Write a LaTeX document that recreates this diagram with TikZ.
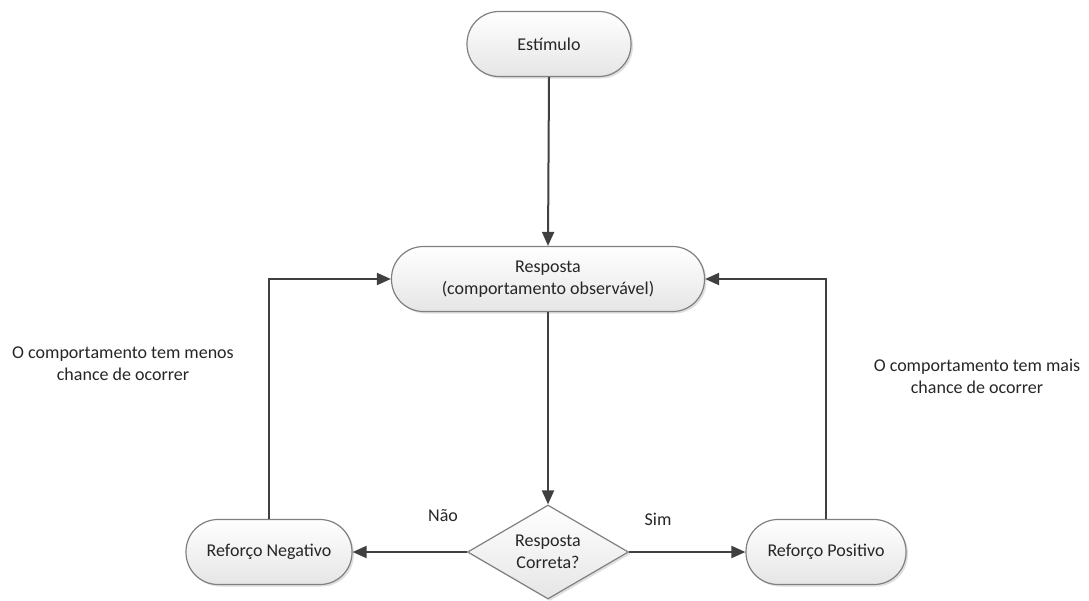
\documentclass[tikz,border=0pt]{standalone}
\usepackage{fontspec}
\setmainfont{Carlito}
\usepackage{tikz}
\usetikzlibrary{arrows.meta,shapes.geometric,shadows}
\definecolor{boxline}{HTML}{808080}
\definecolor{flowline}{HTML}{404040}
\definecolor{txtcol}{HTML}{262626}
\tikzset{
  farrow/.style={-{Triangle[length=14pt,width=12pt]}, line width=2pt, draw=flowline},
  fline/.style={line width=2pt, draw=flowline},
  termbox/.style={draw=boxline, line width=1.2pt, rounded corners=32pt,
    top color=white, bottom color=black!10, align=center, inner sep=0pt,
    minimum height=65pt, text=txtcol,
    drop shadow={shadow xshift=2pt, shadow yshift=-2pt, opacity=0.25}},
  decbox/.style={draw=boxline, line width=1.2pt, diamond, aspect=1.7,
    top color=white, bottom color=black!10, align=center, inner sep=0pt,
    minimum width=161pt, minimum height=94pt, text=txtcol,
    drop shadow={shadow xshift=2pt, shadow yshift=-2pt, opacity=0.25}},
  note/.style={align=center, text=txtcol}
}

\begin{document}
\begin{tikzpicture}[x=1pt, y=-1pt, font=\fontsize{18}{22}\selectfont]
    \useasboundingbox (0,0) rectangle (1089,600);
    \node[termbox, minimum width=164pt] (est) at (549,44) {Estímulo};
    \node[termbox, minimum width=313pt] (resp) at (548,279) {Resposta\\(comportamento observável)};
    \node[decbox] (dec) at (548,552) {Resposta\\Correta?};
    \node[termbox, minimum width=166pt] (neg) at (269,552) {Reforço Negativo};
    \node[termbox, minimum width=160pt] (pos) at (826,552) {Reforço Positivo};
    \node[note] (nao) at (443,516) {Não};
    \node[note] (sim) at (658,519) {Sim};
    \node[note] (menos) at (123,364) {O comportamento tem menos\\chance de ocorrer};
    \node[note] (mais) at (977,376) {O comportamento tem mais\\chance de ocorrer};
    \draw[farrow] (est.south) -- (resp.north);
    \draw[farrow] (resp.south) -- (dec.north);
    \draw[farrow] (dec.west) -- (neg.east);
    \draw[farrow] (dec.east) -- (pos.west);
    \draw[farrow] (neg.north) |- (resp.west);
    \draw[farrow] (pos.north) |- (resp.east);
  \end{tikzpicture}
\end{document}
